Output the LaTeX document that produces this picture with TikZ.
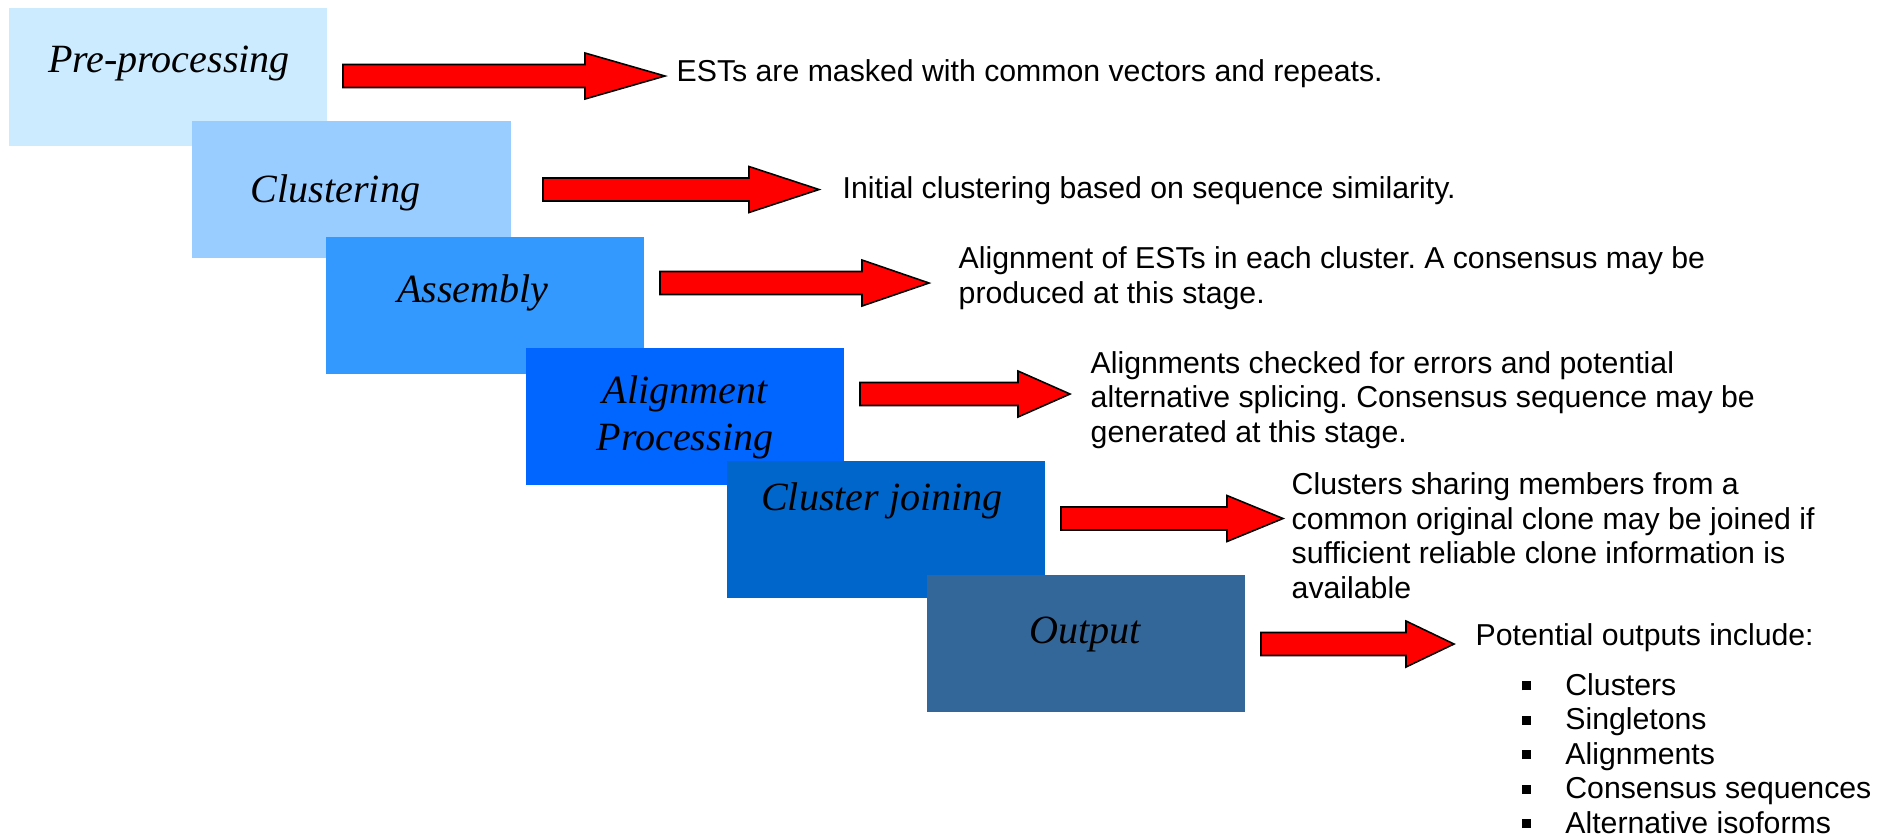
\documentclass[tikz,border=0pt]{standalone}
\usepackage{fontspec}
\setmainfont{Liberation Sans}
\newfontfamily\stagefont{Liberation Serif}
\usetikzlibrary{calc}
\frenchspacing

\definecolor{stageA}{RGB}{204,235,255}
\definecolor{stageB}{RGB}{153,204,255}
\definecolor{stageC}{RGB}{51,153,255}
\definecolor{stageD}{RGB}{0,102,255}
\definecolor{stageE}{RGB}{0,102,204}
\definecolor{stageF}{RGB}{51,102,153}

\newcommand{\sqbullet}{\rule[1.4pt]{2.6pt}{2.6pt}}
% #1 start, #2 tip, #3 head length
\newcommand{\blockarrow}[3]{%
  \draw[redarrow] ($(#1)+(0,-11.5)$) -- ($(#2)+(-#3,-11.5)$) -- ($(#2)+(-#3,-23)$) -- (#2)
    -- ($(#2)+(-#3,23)$) -- ($(#2)+(-#3,11.5)$) -- ($(#1)+(0,11.5)$) -- cycle;}

\tikzset{
  stage/.style={rectangle, minimum width=3.18cm, minimum height=1.37cm, inner sep=0pt},
  stagelabel/.style={font=\stagefont\itshape\fontsize{11.4}{13.1}\selectfont, align=center, inner sep=0pt, anchor=base},
  note/.style={font=\fontsize{8.6}{9.8}\selectfont, align=left, inner sep=0pt, anchor=base west},
  redarrow/.style={fill=red, draw=black, line width=0.45pt, line join=miter}
}

\begin{document}
\begin{tikzpicture}[x=0.01cm,y=-0.01cm]
        \useasboundingbox (0,0) rectangle (1889,835);
        % stages
        \node[stage,fill=stageA] (b1) at (168,77) {};
        \node[stage,fill=stageB] (b2) at (351.5,189.5) {};
        \node[stage,fill=stageC] (b3) at (485,305.5) {};
        \node[stage,fill=stageD] (b4) at (685,416.5) {};
        \node[stage,fill=stageE] (b5) at (886,529.5) {};
        \node[stage,fill=stageF] (b6) at (1086,643.5) {};
        \node[stagelabel] (l1) at (169,72) {Pre-processing};
        \node[stagelabel] (l2) at (335.5,202) {Clustering};
        \node[stagelabel] (l3) at (473,302) {Assembly};
        \node[stagelabel] (l4) at (685,450) {Alignment\\Processing};
        \node[stagelabel] (l5) at (882,510) {Cluster joining};
        \node[stagelabel] (l6) at (1085,643) {Output};
        % notes (multi-line ones sit on their last line)
        \node[note] (t1) at (676,81) {ESTs are masked with common vectors and repeats.};
        \node[note] (t2) at (842,198) {Initial clustering based on sequence similarity.};
        \node[note] (t3) at (958,303) {Alignment of ESTs in each cluster. A consensus may be\\produced at this stage.};
        \node[note] (t4) at (1090,442) {Alignments checked for errors and potential\\alternative splicing. Consensus sequence may be\\generated at this stage.};
        \node[note] (t5) at (1291,598) {Clusters sharing members from a\\common original clone may be joined if\\sufficient reliable clone information is\\available};
        \node[note] (t6) at (1475,833) {Potential outputs include:\\[4.4pt]
            \hspace*{13.2pt}\sqbullet\hspace{9.7pt}Clusters\\
            \hspace*{13.2pt}\sqbullet\hspace{9.7pt}Singletons\\
            \hspace*{13.2pt}\sqbullet\hspace{9.7pt}Alignments\\
            \hspace*{13.2pt}\sqbullet\hspace{9.7pt}Consensus sequences\\
            \hspace*{13.2pt}\sqbullet\hspace{9.7pt}Alternative isoforms};
        % arrows
        \coordinate (s1) at (343,76);    \coordinate (e1) at (665,76);
        \coordinate (s2) at (543,189.5); \coordinate (e2) at (819,189.5);
        \coordinate (s3) at (660,283);   \coordinate (e3) at (929,283);
        \coordinate (s4) at (860,394);   \coordinate (e4) at (1070,394);
        \coordinate (s5) at (1061,518.5);\coordinate (e5) at (1283,518.5);
        \coordinate (s6) at (1261,644);  \coordinate (e6) at (1454,644);
        \blockarrow{s1}{e1}{80}
        \blockarrow{s2}{e2}{70}
        \blockarrow{s3}{e3}{67}
        \blockarrow{s4}{e4}{52}
        \blockarrow{s5}{e5}{56}
        \blockarrow{s6}{e6}{48}
\end{tikzpicture}
\end{document}
